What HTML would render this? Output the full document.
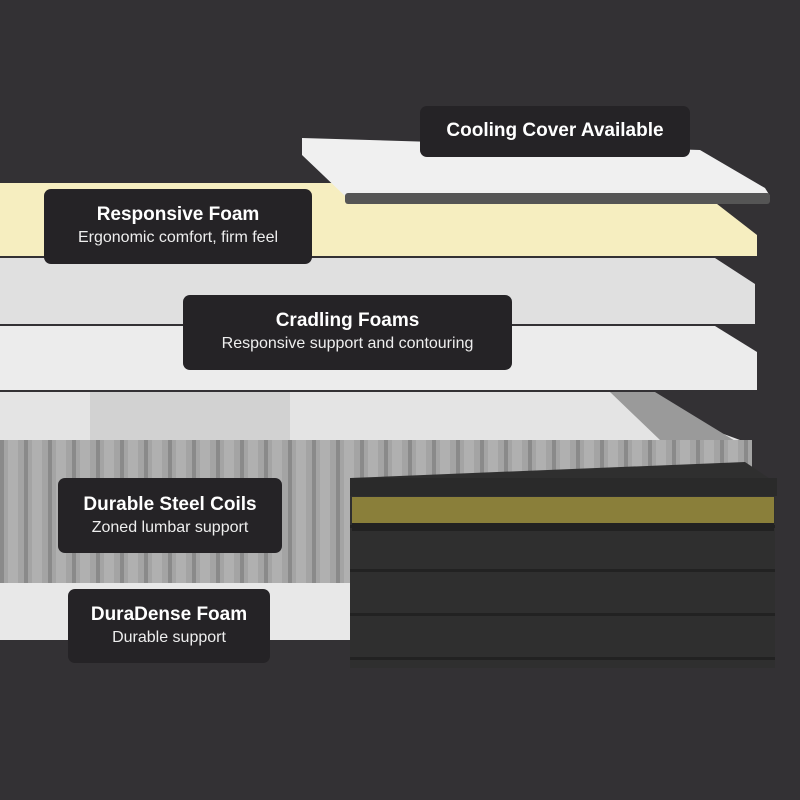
<!DOCTYPE html>
<html><head><meta charset="utf-8"><style>
body{margin:0;width:800px;height:800px;background:#333134;position:relative;overflow:hidden;font-family:"Liberation Sans",sans-serif}
.l{position:absolute;background:#252326;border-radius:7px;color:#fff;text-align:center;box-sizing:border-box}
.t{font-weight:bold;font-size:19px;line-height:24px}
.s{font-size:16px;line-height:22px;color:#eee}
</style></head><body>
<svg width="800" height="800" style="position:absolute;left:0;top:0">
<defs>
<pattern id="coil" width="24" height="150" patternUnits="userSpaceOnUse">
<rect width="24" height="150" fill="#a4a4a4"/><rect x="0" width="4" height="150" fill="#8a8a8a"/><rect x="8" width="10" height="150" fill="#b0b0b0"/></pattern>
<pattern id="base" width="10" height="44" patternUnits="userSpaceOnUse">
<rect width="10" height="44" fill="#2f2f2f"/><rect y="41" width="10" height="3" fill="#222"/></pattern>
</defs>
<polygon points="0,183 690,183 757,235 757,256 0,256" fill="#f6eec0"/>
<polygon points="302,138 700,150 765,188 770,196 345,196 302,155" fill="#f0f0f0"/>
<rect x="345" y="193" width="425" height="11" fill="#555" rx="3"/>
<polygon points="0,258 715,258 755,284 755,324 0,324" fill="#e0e0e0"/>
<polygon points="0,326 715,326 757,352 757,390 0,390" fill="#ececec"/>
<polygon points="0,392 610,392 740,440 0,440" fill="#e4e4e4"/>
<rect x="90" y="392" width="200" height="48" fill="#d2d2d2"/>
<polygon points="610,392 655,392 750,450 740,460 660,440" fill="#9a9a9a"/>
<rect x="0" y="440" width="752" height="143" fill="url(#coil)"/>
<rect x="0" y="583" width="352" height="57" fill="#e8e8e8"/>
<polygon points="745,462 775,482 775,668 350,668 350,478" fill="url(#base)"/>
<rect x="350" y="478" width="427" height="18" fill="#2a2a2a"/>
<rect x="352" y="497" width="422" height="26" fill="#8a7f3a"/>
<rect x="352" y="523" width="422" height="8" fill="#222"/>
</svg>
<div class="l" style="left:420px;top:106px;width:270px;height:51px;padding-top:13px"><div class="t">Cooling Cover Available</div></div>
<div class="l" style="left:44px;top:189px;width:268px;height:75px;padding-top:14px"><div class="t">Responsive Foam</div><div class="s">Ergonomic comfort, firm feel</div></div>
<div class="l" style="left:183px;top:295px;width:329px;height:75px;padding-top:14px"><div class="t">Cradling Foams</div><div class="s">Responsive support and contouring</div></div>
<div class="l" style="left:58px;top:478px;width:224px;height:75px;padding-top:15px"><div class="t">Durable Steel Coils</div><div class="s">Zoned lumbar support</div></div>
<div class="l" style="left:68px;top:589px;width:202px;height:74px;padding-top:14px"><div class="t">DuraDense Foam</div><div class="s">Durable support</div></div>
</body></html>
